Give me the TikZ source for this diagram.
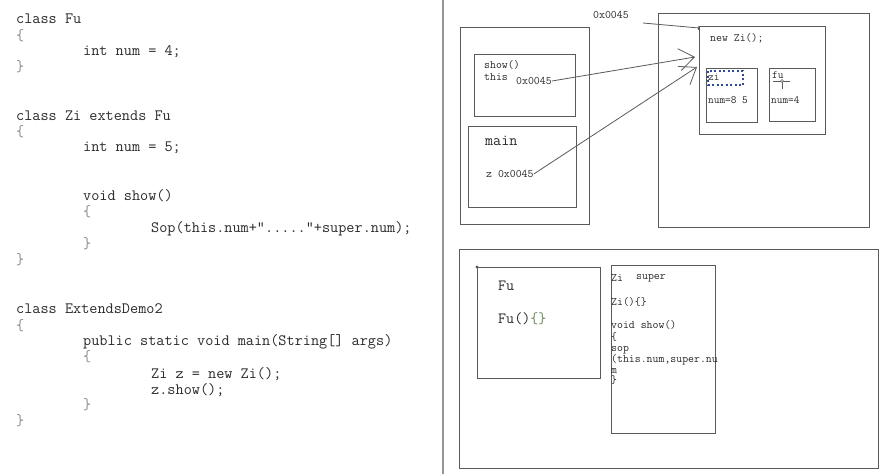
\documentclass[tikz,border=0pt]{standalone}
\usetikzlibrary{arrows.meta}
\definecolor{ln}{HTML}{5A5A5A}
\definecolor{tx}{HTML}{2A2A2A}
\definecolor{brc}{HTML}{8A8A8A}
\definecolor{dotblue}{HTML}{2E4A9A}
\definecolor{grn}{HTML}{6A8A5A}
\tikzset{
  box/.style={draw=ln, line width=1.2pt, anchor=north west, inner sep=0pt},
  code/.style={anchor=west, inner sep=0pt, text=tx, font=\ttfamily\fontsize{15.8}{18}\selectfont, text height=0.6em, text depth=0pt},
  brace/.style={code, text=brc},
  lbl/.style={code, font=\ttfamily\fontsize{11.5}{13}\selectfont},
  small/.style={code, font=\ttfamily\fontsize{11}{12}\selectfont},
  big/.style={code, font=\ttfamily\fontsize{15.6}{18}\selectfont},
  ptr/.style={draw=ln, line width=0.8pt, -{Straight Barb[length=15pt,width=22pt,line width=0.8pt]}},
}
\begin{document}
\begin{tikzpicture}[x=1pt,y=-1pt]
\useasboundingbox (0,0) rectangle (888,474);
\fill[white] (0,0) rectangle (888,474);

% divider
\draw[draw=brc!90, line width=1.5pt] (443,0) -- (443,474);

% ---- code ----
\node[code] (c1) at (16,20) {class Fu};
\node[brace] (c2) at (16,37) {\{};
\node[code] (c3) at (83,52) {int num = 4;};
\node[brace] (c4) at (16,68) {\}};
\node[code] (c5) at (16,117) {class Zi extends Fu};
\node[brace] (c6) at (16,133) {\{};
\node[code] (c7) at (83,148) {int num = 5;};
\node[code] (c8) at (83,197) {void show()};
\node[brace] (c9) at (83,213) {\{};
\node[code] (c10) at (151,229) {Sop(this.num+\textquotedbl.....\textquotedbl+super.num);};
\node[brace] (c11) at (83,245) {\}};
\node[brace] (c12) at (16,261) {\}};
\node[code] (c13) at (16,310) {class ExtendsDemo2};
\node[brace] (c14) at (16,327) {\{};
\node[code] (c15) at (83,342) {public static void main(String[] args)};
\node[brace] (c16) at (83,358) {\{};
\node[code] (c17) at (151,375) {Zi z = new Zi();};
\node[code] (c18) at (151,391) {z.show();};
\node[brace] (c19) at (83,406) {\}};
\node[brace] (c20) at (16,422) {\}};

% ---- stack ----
\node[box, minimum width=129pt, minimum height=197pt] (stack) at (460,27) {};
\node[box, minimum width=101pt, minimum height=62pt] (showf) at (474,54) {};
\node[box, minimum width=108pt, minimum height=81pt] (mainf) at (468,126) {};
\node[lbl] (t1) at (484,65) {show()};
\node[lbl] (t2) at (484,77) {this};
\node[lbl] (t3) at (516,81) {0x0045};
\node[big] (t4) at (485,142) {main};
\node[lbl] (t5) at (486,174) {z 0x0045};

% ---- heap ----
\node[box, minimum width=211pt, minimum height=214pt] (heap) at (658,13) {};
\node[box, minimum width=126pt, minimum height=108pt] (obj) at (699,26) {};
\node[box, minimum width=51pt, minimum height=54pt] (zib) at (706,68) {};
\node[box, minimum width=46pt, minimum height=53pt] (fub) at (769,68) {};
\draw[draw=dotblue, line width=1.3pt, dash pattern=on 2pt off 2.5pt] (708,71) rectangle (743,85);
\node[lbl] (h1) at (710,38) {new Zi();};
\node[small] (h2) at (708,77) {zi};
\node[small] (h3) at (708,100) {num=8 5};
\node[small] (h4) at (772,75) {fu};
\node[small] (h5) at (771,100) {num=4};
\draw[ln, line width=0.8pt] (773,81) -- (790,81);
\draw[ln, line width=0.8pt] (782,81) -- (782,89);
\draw[ln, line width=0.6pt, fill=white] (782,81) circle (1.5pt);

\node[lbl] (addr) at (593,15) {0x0045};
\coordinate (a0) at (643,23);
\coordinate (a0e) at (699,28);
\draw[ln, line width=0.8pt, -{Bar[width=4pt,line width=0.8pt]}] (a0) -- (a0e);

\coordinate (tip1) at (695,57);
\coordinate (tip2) at (697,67);
\draw[ptr] (t3.east) -- (tip1);
\draw[ptr] (t5.east) -- (tip2);

% ---- method area ----
\node[box, minimum width=419pt, minimum height=219pt] (meth) at (459,249) {};
\node[box, minimum width=123pt, minimum height=111pt] (fucls) at (477,267) {};
\fill[ln] (fucls.north west) circle (1.6pt);
\node[big] (m1) at (498,287) {Fu};
\node[big] (m2) at (498,320) {Fu()\textcolor{grn}{\{\}}};
\node[box, minimum width=104pt, minimum height=168pt] (zicls) at (611,265) {};
\node[lbl] (z1) at (611,278) {Zi};
\node[lbl] (z2) at (636,276) {super};
\node[lbl] (z3) at (611,302) {Zi()\{\}};
\node[lbl] (z4) at (611,325) {void show()};
\node[lbl] (z5) at (611,337) {\{};
\node[lbl] (z6) at (611,348) {sop};
\node[lbl] (z7) at (611,359) {(this.num,super.nu};
\node[lbl] (z8) at (611,370) {m};
\node[lbl] (z9) at (611,380) {\}};
\end{tikzpicture}
\end{document}
